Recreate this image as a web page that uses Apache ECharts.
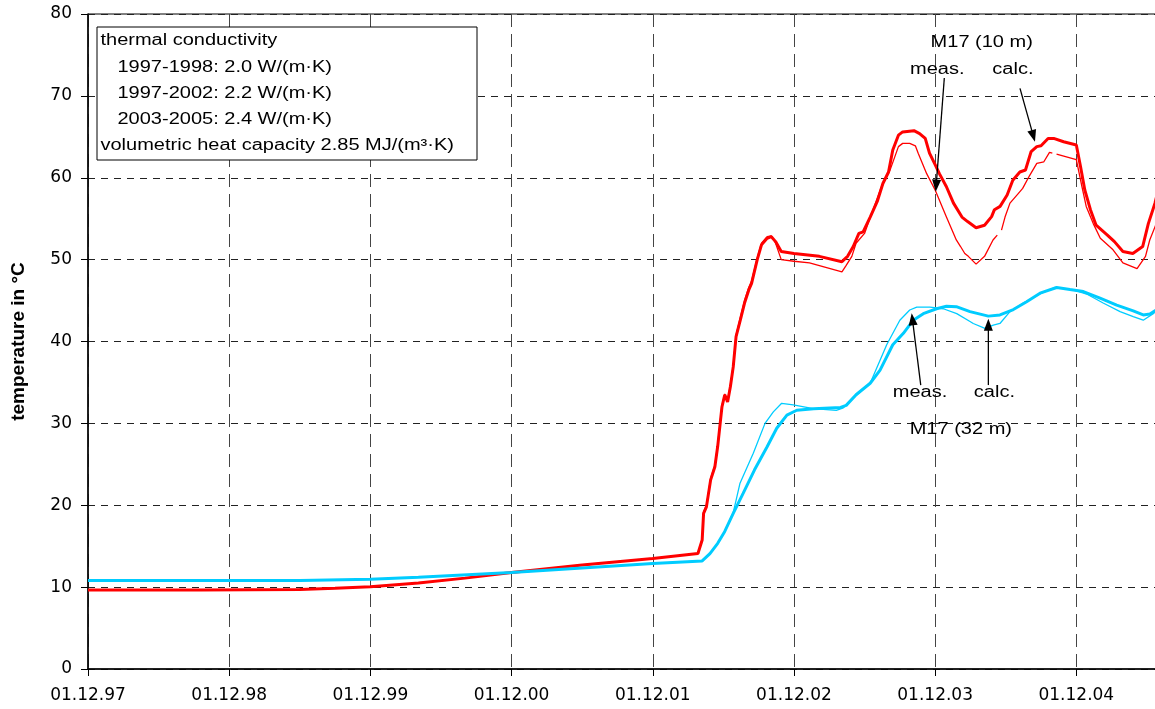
<!DOCTYPE html>
<html><head><meta charset="utf-8">
<script src="https://cdn.jsdelivr.net/npm/echarts@6/dist/echarts.min.js"></script>
<style>html,body{margin:0;padding:0;background:#fff}#c{width:1155px;height:709px}</style>
</head><body><div id="c"></div>
<script>
// x values: years since 01.12.1997
const xTickLabels = ['01.12.97','01.12.98','01.12.99','01.12.00','01.12.01','01.12.02','01.12.03','01.12.04'];
const yTicks = [0,10,20,30,40,50,60,70,80];

// M17 (10 m) calculated (thick red)
const calc10 = [[0,9.65],[0.8,9.65],[1.5,9.7],[1.75,9.85],[2.0,10.05],[2.34,10.5],[2.67,11.1],[3.0,11.8],[3.5,12.7],[4.0,13.5],[4.32,14.1],[4.35,15.75],[4.36,19.0],[4.38,19.8],[4.41,23.1],[4.44,24.7],[4.46,27.2],[4.48,30.4],[4.49,32.0],[4.51,33.5],[4.53,32.6],[4.55,34.5],[4.57,36.9],[4.59,40.6],[4.62,42.6],[4.65,44.7],[4.68,46.3],[4.70,47.1],[4.74,50.0],[4.77,51.8],[4.81,52.6],[4.84,52.8],[4.87,52.2],[4.91,51.0],[5.00,50.75],[5.18,50.4],[5.34,49.75],[5.38,50.4],[5.42,51.6],[5.46,53.2],[5.49,53.4],[5.54,55.2],[5.59,57.1],[5.63,59.3],[5.67,60.7],[5.70,63.4],[5.74,65.2],[5.77,65.6],[5.85,65.75],[5.89,65.4],[5.93,64.8],[5.96,63.0],[6.00,61.6],[6.03,60.5],[6.08,58.9],[6.13,56.9],[6.19,55.2],[6.23,54.65],[6.29,53.9],[6.35,54.2],[6.40,55.25],[6.42,56.1],[6.46,56.5],[6.51,57.9],[6.55,59.7],[6.60,60.7],[6.64,60.95],[6.68,63.2],[6.72,63.8],[6.75,63.9],[6.80,64.8],[6.84,64.8],[6.91,64.4],[7.00,64.0],[7.03,61.35],[7.06,58.5],[7.10,56.1],[7.14,54.2],[7.22,53.0],[7.27,52.2],[7.33,51.0],[7.40,50.75],[7.47,51.6],[7.51,54.4],[7.557,56.9],[7.58,58.5]];

// M17 (10 m) measured (thin red)
const meas10 = [[0,9.65],[0.8,9.65],[1.5,9.7],[1.75,9.85],[2.0,10.05],[2.34,10.5],[2.67,11.1],[3.0,11.8],[3.5,12.7],[4.0,13.5],[4.32,14.1],[4.35,15.9],[4.36,19.2],[4.38,20.0],[4.41,23.3],[4.44,24.9],[4.46,27.4],[4.48,30.6],[4.49,32.2],[4.51,33.6],[4.53,32.8],[4.55,34.7],[4.57,37.1],[4.59,40.8],[4.62,42.9],[4.65,45.0],[4.68,46.6],[4.70,47.4],[4.74,50.2],[4.77,52.0],[4.81,52.8],[4.84,52.9],[4.87,52.0],[4.91,50.0],[5.00,49.8],[5.11,49.6],[5.34,48.5],[5.37,49.3],[5.41,50.4],[5.44,52.0],[5.50,53.2],[5.56,56.1],[5.62,58.9],[5.68,60.9],[5.74,63.8],[5.77,64.2],[5.82,64.2],[5.86,63.9],[5.88,63.0],[5.94,60.5],[6.00,58.5],[6.08,55.2],[6.15,52.4],[6.18,51.6],[6.21,50.75],[6.235,50.4],[6.29,49.45],[6.35,50.4],[6.41,52.4],[6.44,53.0],[6.455,'-'],[6.47,53.6],[6.495,55.2],[6.53,56.9],[6.59,58.1],[6.62,58.7],[6.67,60.3],[6.72,61.75],[6.77,61.95],[6.81,63.1],[6.83,63.0],[6.845,'-'],[6.86,62.9],[7.00,62.2],[7.04,58.9],[7.07,56.5],[7.12,54.4],[7.17,52.6],[7.26,51.2],[7.33,49.6],[7.43,48.9],[7.49,50.4],[7.52,52.4],[7.557,54.0],[7.58,55.0]];

// M17 (32 m) calculated (thick cyan)
const calc32 = [[0,10.8],[1.5,10.8],[2.0,10.95],[2.34,11.2],[3.0,11.8],[3.5,12.35],[4.0,12.9],[4.35,13.2],[4.405,14.1],[4.46,15.35],[4.51,16.8],[4.57,19.0],[4.64,21.45],[4.72,24.3],[4.81,27.15],[4.878,29.4],[4.95,31.0],[5.02,31.6],[5.14,31.8],[5.33,31.95],[5.37,32.2],[5.44,33.5],[5.54,34.9],[5.61,36.5],[5.70,39.6],[5.775,41.0],[5.845,42.6],[5.916,43.4],[6.01,44.0],[6.08,44.3],[6.15,44.25],[6.247,43.65],[6.377,43.1],[6.459,43.25],[6.554,43.9],[6.648,44.85],[6.743,45.9],[6.861,46.6],[6.955,46.35],[7.05,46.1],[7.168,45.3],[7.286,44.45],[7.403,43.75],[7.474,43.25],[7.521,43.35],[7.557,43.75],[7.58,44.0]];

// M17 (32 m) measured (thin cyan)
const meas32 = [[0,10.8],[1.5,10.8],[2.0,10.95],[2.34,11.2],[3.0,11.8],[3.5,12.35],[4.0,12.9],[4.35,13.2],[4.405,14.1],[4.46,15.35],[4.51,16.8],[4.57,19.1],[4.618,22.7],[4.712,26.35],[4.795,30.0],[4.854,31.4],[4.913,32.45],[4.995,32.25],[5.137,31.8],[5.30,31.6],[5.35,31.9],[5.44,33.4],[5.54,34.9],[5.657,39.6],[5.75,42.6],[5.82,43.85],[5.87,44.2],[5.963,44.2],[6.058,44.0],[6.153,43.4],[6.247,42.45],[6.27,42.2],[6.353,41.6],[6.412,42.0],[6.459,42.2],[6.53,43.65],[6.624,44.7],[6.743,45.8],[6.849,46.6],[6.979,46.3],[7.073,45.8],[7.19,44.7],[7.31,43.65],[7.403,43.05],[7.474,42.6],[7.545,43.4],[7.58,43.9]];

const legendLines = ['thermal conductivity','1997-1998: 2.0 W/(m\u00b7K)','1997-2002: 2.2 W/(m\u00b7K)','2003-2005: 2.4 W/(m\u00b7K)','volumetric heat capacity 2.85 MJ/(m\u00b3\u00b7K)'];
const legendIndent = [false,true,true,true,false];

// annotation labels at data positions [x, y]
const annoTexts = [
  {text:'M17 (10 m)', at:[6.330,76.52]},
  {text:'meas.', at:[6.015,73.16]},
  {text:'calc.', at:[6.551,73.16]},
  {text:'meas.', at:[5.893,33.71]},
  {text:'calc.', at:[6.420,33.71]},
  {text:'M17 (32 m)', at:[6.182,29.23]}
];
// arrows: from -> tip, data coords
const annoArrows = [
  [[6.065,72.18],[6.004,58.30]],
  [[6.601,70.92],[6.707,64.40]],
  [[5.898,34.68],[5.834,43.44]],
  [[6.377,34.68],[6.377,42.78]]
];

const RED = '#FF0000', CYAN = '#00CCFF';
const axisFont = {fontFamily:'DejaVu Sans', fontSize:17, color:'#000'};

const chart = echarts.init(document.getElementById('c'), null, {renderer:'canvas'});
const option = {
  animation:false,
  backgroundColor:'#fff',
  grid:{left:88, top:14, right:-2, bottom:40, show:true, borderColor:'#000', borderWidth:1, containLabel:false, outerBoundsMode:'none'},
  xAxis:{
    type:'value', min:0, max:7.5714, interval:1,
    axisLine:{show:true, onZero:false, lineStyle:{color:'#000', width:1.5}},
    axisTick:{show:true, length:7, lineStyle:{color:'#000', width:1}},
    axisLabel:Object.assign({margin:18, formatter:function(v){const i=Math.round(v); return (Math.abs(v-i)<1e-6 && xTickLabels[i]!==undefined)?xTickLabels[i]:'';}}, axisFont),
    splitLine:{show:true, lineStyle:{color:'#444', width:1, type:[13,7]}}
  },
  yAxis:{
    type:'value', min:0, max:80, interval:10,
    name:'temperature in \u00b0C', nameLocation:'middle', nameGap:60,
    nameTextStyle:{fontFamily:'Liberation Sans', fontWeight:'bold', fontSize:19, color:'#000'},
    axisLine:{show:true, lineStyle:{color:'#000', width:1.5}},
    axisTick:{show:true, length:7, lineStyle:{color:'#000', width:1}},
    axisLabel:Object.assign({margin:16, formatter:function(v){return yTicks.indexOf(v)>=0?String(v):'';}}, axisFont),
    splitLine:{show:true, lineStyle:{color:'#222', width:1, type:[7,6]}}
  },
  series:[
    {name:'meas. 10 m', type:'line', data:meas10, symbol:'none', connectNulls:false, lineStyle:{color:RED, width:1.3}, itemStyle:{color:RED}, z:2},
    {name:'meas. 32 m', type:'line', data:meas32, symbol:'none', lineStyle:{color:CYAN, width:1.3}, itemStyle:{color:CYAN}, z:2},
    {name:'calc. 10 m', type:'line', data:calc10, symbol:'none', lineStyle:{color:RED, width:3}, itemStyle:{color:RED}, z:3},
    {name:'calc. 32 m', type:'line', data:calc32, symbol:'none', lineStyle:{color:CYAN, width:3}, itemStyle:{color:CYAN}, z:3}
  ]
};
chart.setOption(option);

const px = p => chart.convertToPixel({gridIndex:0}, p);
const FONT = '16px "Liberation Sans", Arial, sans-serif';
const SX = 1.25;
const g = [];
g.push({type:'rect', shape:{x:97, y:27, width:380, height:133}, style:{fill:'#fff', stroke:'#000', lineWidth:1}, z:100});
legendLines.forEach((s,i)=>{
  g.push({type:'text', x: legendIndent[i]?117.5:100.5, y: 41 + i*26.2, scaleX:SX, z:101,
    style:{text:s, font:FONT, fill:'#000', align:'left', textAlign:'left', verticalAlign:'middle', textVerticalAlign:'middle'}});
});
annoTexts.forEach(a=>{
  const p = px(a.at);
  g.push({type:'text', x:p[0], y:p[1], scaleX:SX, z:101,
    style:{text:a.text, font:FONT, fill:'#000', align:'center', textAlign:'center', verticalAlign:'middle', textVerticalAlign:'middle'}});
});
annoArrows.forEach(ar=>{
  const a = px(ar[0]), b = px(ar[1]);
  const dx=b[0]-a[0], dy=b[1]-a[1], L=Math.hypot(dx,dy);
  const ux=dx/L, uy=dy/L, nx=-uy, ny=ux;
  const HL=12, HW=4.5;
  const bx=b[0]-ux*HL, by=b[1]-uy*HL;
  g.push({type:'line', shape:{x1:a[0], y1:a[1], x2:bx+ux*2, y2:by+uy*2}, style:{stroke:'#000', lineWidth:1.3}, z:101});
  g.push({type:'polygon', shape:{points:[[b[0],b[1]],[bx+nx*HW,by+ny*HW],[bx-nx*HW,by-ny*HW]]}, style:{fill:'#000'}, z:101});
});
chart.setOption({graphic:g});
</script></body></html>
